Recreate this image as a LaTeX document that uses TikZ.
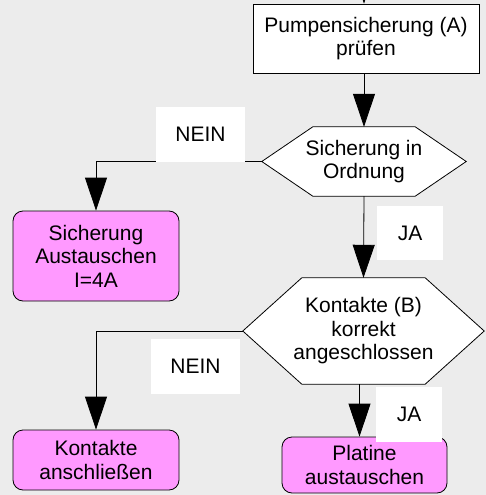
\documentclass[tikz,border=0pt]{standalone}
\usepackage{fontspec}
\setmainfont{Liberation Sans}
\usetikzlibrary{arrows.meta,calc,backgrounds}
\definecolor{bg}{RGB}{236,236,236}
\definecolor{pinkbox}{RGB}{255,153,255}
\begin{document}
\begin{tikzpicture}[x=1pt,y=-1pt,
  txt/.style={font=\fontsize{21}{23.5}\selectfont, align=center, inner sep=0pt},
  procbox/.style={txt, draw=black, line width=0.8pt, fill=white},
  actbox/.style={txt, draw=black, line width=0.8pt, fill=pinkbox, rounded corners=10pt},
  hexarea/.style={txt},
  hexline/.style={draw=black, fill=white, line width=0.8pt},
  lbl/.style={txt, fill=white},
  flow/.style={line width=0.8pt, -{Triangle[length=33pt,width=22pt]}},
]
\useasboundingbox (0,0) rectangle (486,495);
\clip (0,0) rectangle (486,495);

% process box
\node[procbox, minimum width=226pt, minimum height=69pt] (top) at (366,38.5) {Pumpensicherung (A)\\prüfen};

% decision areas (hexagons drawn on background layer)
\node[hexarea, minimum width=204pt, minimum height=69pt] (h1) at (364,161.5) {Sicherung in\\Ordnung};
\node[hexarea, minimum width=241pt, minimum height=106pt] (h2) at (363.5,331) {Kontakte (B)\\korrekt\\angeschlossen};

% action boxes
\node[actbox, minimum width=166pt, minimum height=90pt] (sich) at (96,256) {Sicherung\\Austauschen\\I=4A};
\node[actbox, minimum width=166pt, minimum height=60pt] (kont) at (96,460) {Kontakte\\anschließen};
\node[actbox, minimum width=165pt, minimum height=56pt] (plat) at (364.5,465) {Platine\\austauschen};

\begin{pgfonlayer}{background}
  \fill[bg] (0,0) rectangle (486,495);
  \path[hexline] (h1.west) -- ($(h1.north west)+(51,0)$) -- ($(h1.north east)+(-51,0)$) -- (h1.east)
     -- ($(h1.south east)+(-51,0)$) -- ($(h1.south west)+(51,0)$) -- cycle;
  \path[hexline] (h2.west) -- ($(h2.north west)+(59,0)$) -- ($(h2.north east)+(-59,0)$) -- (h2.east)
     -- ($(h2.south east)+(-59,0)$) -- ($(h2.south west)+(59,0)$) -- cycle;
\end{pgfonlayer}

% connectors
\coordinate (topin) at (364,-40);
\draw[flow] (topin) -- (topin |- top.north);
\draw[flow] (h1.north |- top.south) -- (h1.north);
\draw[flow] (h1.west) -| (sich.north);
\draw[flow] (h1.south) -- (h2.north);
\draw[flow] (h2.west) -| (kont.north);
\draw[flow] ([xshift=-4pt]h2.south) -- ([xshift=-4pt]h2.south |- plat.north);

% labels
\node[lbl, minimum width=89pt, minimum height=55pt] (nein1) at (200.5,134.5) {NEIN};
\node[lbl, minimum width=66pt, minimum height=54pt] (ja1) at (410,233) {JA};
\node[lbl, minimum width=89pt, minimum height=55pt] (nein2) at (195.5,366.5) {NEIN};
\node[lbl, minimum width=66pt, minimum height=55pt] (ja2) at (409,414.5) {JA};
\end{tikzpicture}
\end{document}
